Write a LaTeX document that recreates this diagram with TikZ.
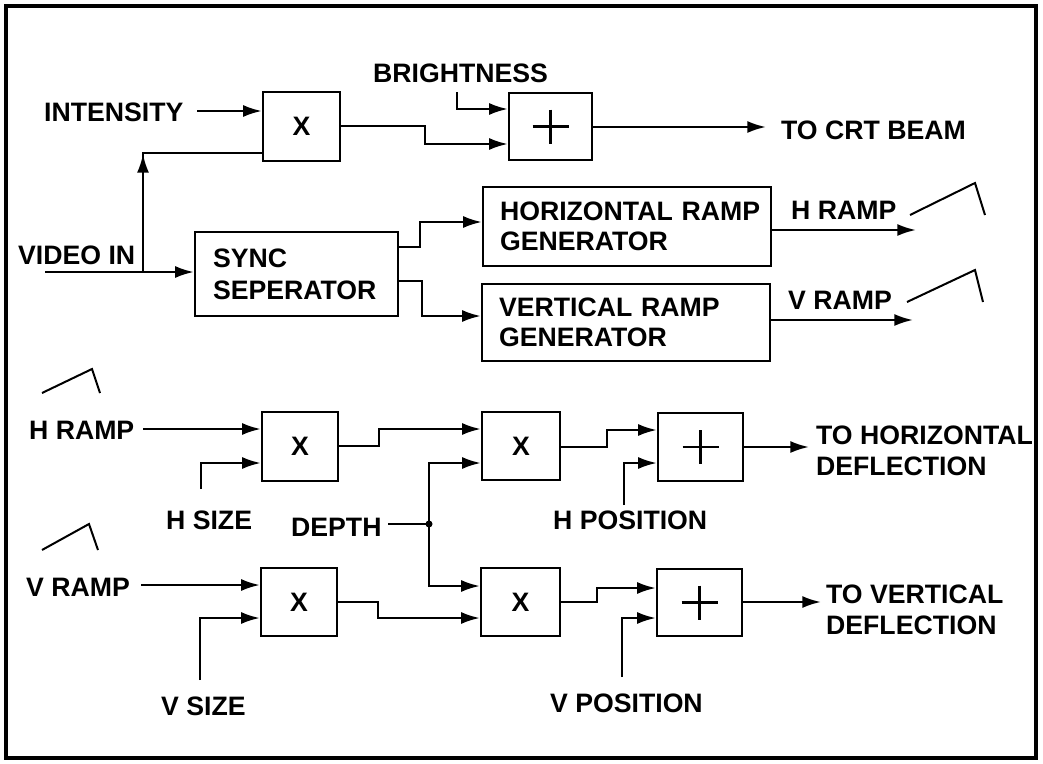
\documentclass[tikz,border=0pt]{standalone}
\usepackage{fontspec}
\setmainfont{Liberation Sans}
\usetikzlibrary{arrows.meta}
\begin{document}
\begin{tikzpicture}[x=0.75pt,y=-0.75pt,
  font=\fontsize{20}{23}\selectfont\bfseries,
  line width=1.7pt,
  arr/.style={-{Latex[length=14pt,width=9pt]}},
  blk/.style n args={2}{draw, line width=1.8pt, minimum width=#1*0.75pt, minimum height=#2*0.75pt, inner sep=0pt},
  lbl/.style={anchor=west, inner sep=0pt, align=left},
  plus/.style={line width=1.6pt},
  ramp/.style={line width=1.5pt},
]
\useasboundingbox (0,0) rectangle (1043,764);
\draw[line width=3pt] (6,6) rectangle (1036,758);

% ---------- top section ----------
\node[blk={77}{69}] (m1) at (301.5,126.5) {X};
\node[blk={83}{67}] (a1) at (550.5,126.5) {};
\draw[plus] (a1.center) ++(-18,0) -- ++(36,0);
\draw[plus] (a1.center) ++(0,-17) -- ++(0,34);
\node[blk={203}{84}, text width=125.25pt, align=left, inner xsep=13.5pt, font=\fontsize{20}{24}\selectfont\bfseries] (sync) at (296.5,274) {\mbox{SYNC}\\\mbox{SEPERATOR}};
\node[blk={288}{79}, text width=190.5pt, align=left, inner xsep=12.75pt, font=\fontsize{20}{22.5}\selectfont\bfseries] (hrg) at (627,226.5) {\mbox{HORIZONTAL RAMP}\\\mbox{GENERATOR}};
\node[blk={288}{77}, text width=190.5pt, align=left, inner xsep=12.75pt, font=\fontsize{20}{22.5}\selectfont\bfseries] (vrg) at (626,322.5) {\mbox{VERTICAL RAMP}\\\mbox{GENERATOR}};

\node[lbl] (intensity) at (43,112) {INTENSITY};
\node[lbl] (videoin) at (17,255) {VIDEO IN};
\node[lbl] (bright) at (372,73) {BRIGHTNESS};
\node[lbl] (crt) at (780,130) {TO CRT BEAM};
\node[lbl] (hrampo) at (790,210) {H RAMP};
\node[lbl] (vrampo) at (787,300) {V RAMP};

\coordinate (i0) at (197,111);
\draw[arr] (i0) -- (i0 -| m1.west);
\coordinate (v0) at (45,272);
\coordinate (vj) at (143,272);
\draw[arr] (v0) -- (v0 -| sync.west);
\draw[arr] (vj) -- (143,154);
\draw (143,160) -- (143,153) -- (m1.west |- 0,153);
\draw[arr] (m1.east |- 0,126) -- (425,126) -- (425,144) -- (a1.west |- 0,144);
\coordinate (b0) at (457,92);
\draw[arr] (b0) -- (457,109) -- (a1.west |- 0,109);
\draw[arr] (a1.east |- 0,127) -- (766,127);
\draw[arr] (sync.east |- 0,247) -- (420,247) -- (420,222) -- (hrg.west |- 0,222);
\draw[arr] (sync.east |- 0,281) -- (422,281) -- (422,316) -- (vrg.west |- 0,316);
\draw[arr] (hrg.east |- 0,230) -- (916,230);
\draw[arr] (vrg.east |- 0,320) -- (913,320);
\draw[ramp] (910,215) -- (975,183) -- (985,215);
\draw[ramp] (907,302) -- (975,270) -- (983,302);

% ---------- bottom section ----------
\node[blk={76}{69}] (mh) at (300,446.5) {X};
\node[blk={78}{68}] (mh2) at (521,446) {X};
\node[blk={85}{68}] (ah) at (700.5,447) {};
\draw[plus] (ah.center) ++(-18,0) -- ++(36,0);
\draw[plus] (ah.center) ++(0,-17) -- ++(0,34);
\node[blk={76}{68}] (mv) at (299,602) {X};
\node[blk={79}{68}] (mv2) at (520.5,602) {X};
\node[blk={85}{67}] (av) at (699.5,602.5) {};
\draw[plus] (av.center) ++(-18,0) -- ++(36,0);
\draw[plus] (av.center) ++(0,-17) -- ++(0,34);

\node[lbl] (hrampi) at (28,430) {H RAMP};
\node[lbl] (vrampi) at (25,587) {V RAMP};
\node[lbl] (hsize) at (165,520) {H SIZE};
\node[lbl] (vsize) at (160,706) {V SIZE};
\node[lbl] (depth) at (290,527) {DEPTH};
\node[lbl] (hpos) at (552,520) {H POSITION};
\node[lbl] (vpos) at (549,703) {V POSITION};
\node[lbl] (toh) at (815,450.5) {TO HORIZONTAL\\DEFLECTION};
\node[lbl] (tov) at (825,610) {TO VERTICAL\\DEFLECTION};

\draw[ramp] (42,393) -- (92,369) -- (100,393);
\draw[ramp] (42,550) -- (89,524) -- (98,550);

\coordinate (hr0) at (143,429);
\draw[arr] (hr0) -- (hr0 -| mh.west);
\coordinate (hs0) at (201,489);
\draw[arr] (hs0) -- (201,463) -- (mh.west |- 0,463);
\draw[arr] (mh.east |- 0,446) -- (379,446) -- (379,429) -- (mh2.west |- 0,429);
\coordinate (d0) at (388,524);
\coordinate (dj) at (429,524);
\draw (d0) -- (dj);
\fill (dj) circle[radius=3.5];
\draw[arr] (dj) -- (429,463) -- (mh2.west |- 0,463);
\draw[arr] (dj) -- (429,586) -- (mv2.west |- 0,586);
\coordinate (vr0) at (141,585);
\draw[arr] (vr0) -- (vr0 -| mv.west);
\coordinate (vs0) at (200,680);
\draw[arr] (vs0) -- (200,618) -- (mv.west |- 0,618);
\draw[arr] (mv.east |- 0,602) -- (378,602) -- (378,618) -- (mv2.west |- 0,618);
\draw[arr] (mh2.east |- 0,447) -- (607,447) -- (607,430) -- (ah.west |- 0,430);
\coordinate (hp0) at (624,505);
\draw[arr] (hp0) -- (624,463) -- (ah.west |- 0,463);
\draw[arr] (ah.east |- 0,447) -- (809,447);
\draw[arr] (mv2.east |- 0,602) -- (597,602) -- (597,588) -- (av.west |- 0,588);
\coordinate (vp0) at (622,677);
\draw[arr] (vp0) -- (622,618) -- (av.west |- 0,618);
\draw[arr] (av.east |- 0,602) -- (821,602);
\end{tikzpicture}
\end{document}
